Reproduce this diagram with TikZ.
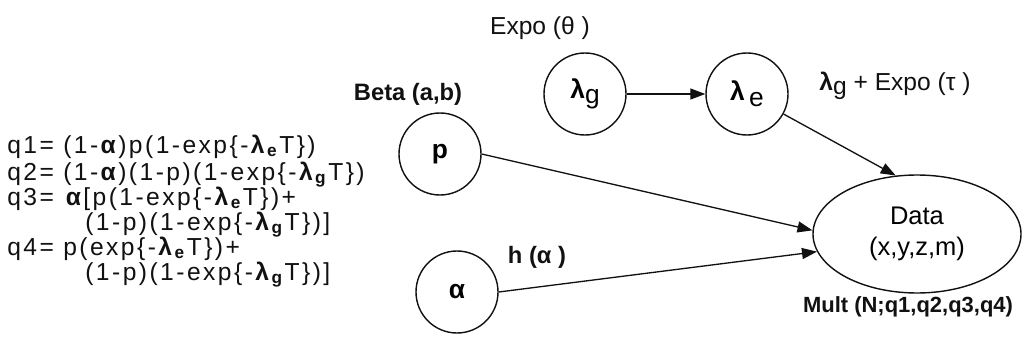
\documentclass[tikz,border=0pt]{standalone}
\usepackage{fontspec}
\setmainfont{Liberation Sans}
\newfontfamily\eqfont[LetterSpace=10]{Liberation Sans}
\usepackage{tikz}
\usetikzlibrary{arrows.meta,positioning,shapes.geometric}
\definecolor{NetInk}{HTML}{111111}
\tikzset{
  netlabel/.style={font=\fontsize{14}{16}\selectfont, text=NetInk, inner sep=0pt},
  netbold/.style={netlabel, font=\fontsize{13.5}{16}\selectfont\bfseries},
  neteq/.style={font=\eqfont\fontsize{14}{14}\selectfont, text=NetInk, inner sep=0pt, anchor=base west},
  netnode/.style={circle, draw=NetInk, line width=0.8pt, minimum size=1.64cm, inner sep=0pt, font=\fontsize{15}{16}\selectfont\bfseries},
  netdata/.style={ellipse, draw=NetInk, line width=0.8pt, minimum width=4.16cm, minimum height=2.36cm, inner sep=0pt, align=center, font=\fontsize{14.5}{18}\selectfont},
  netarrow/.style={-{Triangle[length=3mm,width=2.2mm]}, line width=0.75pt, draw=NetInk}
}
\newcommand{\lamsub}[1]{\textbf{λ}\textsubscript{\textbf{#1}}}

\begin{document}
\begin{tikzpicture}
\useasboundingbox (0,0) rectangle (20.58,6.98);
% equations
\node[neteq] (qone) at (0.14,3.92) {q1= (1-\textbf{α})p(1-exp\{-\lamsub{e}T\})};
\node[neteq] (qtwo) at (0.14,3.38) {q2= (1-\textbf{α})(1-p)(1-exp\{-\lamsub{g}T\})};
\node[neteq] (qthree) at (0.14,2.88) {q3= \textbf{α}[p(1-exp\{-\lamsub{e}T\})+};
\node[neteq] (qthreeb) at (1.70,2.38) {(1-p)(1-exp\{-\lamsub{g}T\})]};
\node[neteq] (qfour) at (0.14,1.88) {q4= p(exp\{-\lamsub{e}T\})+};
\node[neteq] (qfourb) at (1.70,1.38) {(1-p)(1-exp\{-\lamsub{g}T\})]};
% graph
\node[netnode] (lamg) at (11.70,5.10) {λ\raisebox{-0.35ex}{\mdseries g}};
\node[netnode] (lame) at (14.94,5.10) {λ\,\raisebox{-0.45ex}{\mdseries e}};
\node[netnode] (prob) at (8.80,3.90) {p};
\node[netnode] (alpha) at (9.14,1.14) {α};
\node[netdata] (data) at (18.34,2.30) {Data\\(x,y,z,m)};
\node[netlabel] (thetalab) at (10.80,6.42) {Expo (θ )};
\node[netbold] (betalab) at (8.16,5.10) {Beta (a,b)};
\node[netlabel] (taulab) at (17.90,5.26) {\textbf{λ}\raisebox{-0.35ex}{g} + Expo (τ )};
\node[netbold] (hlab) at (10.74,1.84) {h (α )};
\node[netbold, font=\fontsize{12.5}{14}\selectfont\bfseries] (multlab) at (18.16,0.84) {Mult (N;q1,q2,q3,q4)};
\draw[netarrow] (lamg) -- (lame);
\draw[netarrow] (lame) -- (data.110);
\draw[netarrow] (prob.east) -- (data.178);
\draw[netarrow] (alpha.east) -- (data.190);
\end{tikzpicture}
\end{document}
